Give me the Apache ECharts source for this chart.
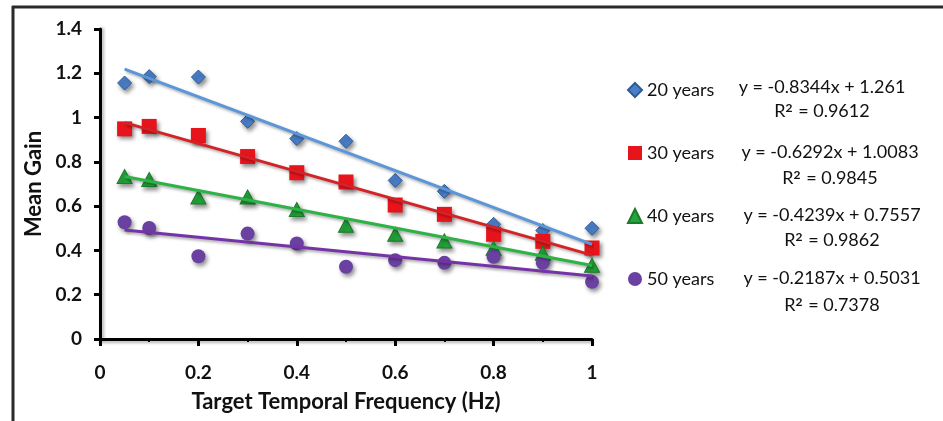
<!DOCTYPE html>
<html>
<head>
<meta charset="utf-8">
<script src="https://cdn.jsdelivr.net/npm/echarts@6/dist/echarts.min.js"></script>
<style>
  html, body { margin: 0; padding: 0; background: #fff; }
  #chart { width: 943px; height: 421px; }
</style>
</head>
<body>
<div id="chart"></div>
<script>
// data
const freq = [0.05, 0.1, 0.2, 0.3, 0.4, 0.5, 0.6, 0.7, 0.8, 0.9, 1.0];
const gain20 = [1.156, 1.185, 1.183, 0.983, 0.905, 0.893, 0.716, 0.667, 0.518, 0.49, 0.50];
const gain30 = [0.949, 0.96, 0.919, 0.824, 0.751, 0.709, 0.605, 0.563, 0.473, 0.441, 0.411];
const gain40 = [0.734, 0.72, 0.641, 0.641, 0.585, 0.514, 0.473, 0.443, 0.41, 0.387, 0.333];
const gain50 = [0.527, 0.501, 0.374, 0.476, 0.431, 0.326, 0.356, 0.344, 0.371, 0.344, 0.258];

const groups = ["20 years", "30 years", "40 years", "50 years"];
// trend line ends (x = 0.05 and x = 1)
const trendX = [0.05, 1.0];
const trend20 = [1.219, 0.427];
const trend30 = [0.977, 0.379];
const trend40 = [0.734, 0.332];
const trend50 = [0.492, 0.284];

const eqText = ["y = -0.8344x + 1.261", "y = -0.6292x + 1.0083", "y = -0.4239x + 0.7557", "y = -0.2187x + 0.5031"];
const r2Values = ["0.9612", "0.9845", "0.9862", "0.7378"];

const markerColors = ["#4a7fc8", "#e8141c", "#22a63a", "#6a40a0"];
const lineColors = ["#5b97d8", "#d42327", "#2db345", "#7434a6"];
const symbols = ["diamond", "rect", "triangle", "circle"];
const symbolSizes = [[14, 14], [15, 15], [15, 14], [14, 14]];
const borders = ["#2e5c99", "#e8141c", "#1b7a2b", "#6a40a0"];

const allGains = [gain20, gain30, gain40, gain50];
const allTrends = [trend20, trend30, trend40, trend50];

const FONT = "Lato, 'DejaVu Sans', sans-serif";

const scatterSeries = groups.map((name, i) => ({
  name: name,
  type: "scatter",
  symbol: symbols[i],
  symbolSize: symbolSizes[i],
  data: freq.map((x, k) => [x, allGains[i][k]]),
  itemStyle: {
    color: markerColors[i],
    borderColor: borders[i],
    borderWidth: i === 0 || i === 2 ? 1 : 0,
    shadowBlur: 4,
    shadowColor: "rgba(0,0,0,0.45)",
    shadowOffsetX: 2,
    shadowOffsetY: 3,
    opacity: 1,
  },
  z: 2,
}));

const trendSeries = groups.map((name, i) => ({
  name: name + " trend",
  type: "line",
  symbol: "none",
  data: trendX.map((x, k) => [x, allTrends[i][k]]),
  lineStyle: {
    color: lineColors[i],
    width: 3,
    shadowBlur: 3,
    shadowColor: "rgba(0,0,0,0.35)",
    shadowOffsetX: 2,
    shadowOffsetY: 2,
  },
  silent: true,
  z: 3,
}));

const graphics = [
  // frame (left and top edges)
  { type: "line", shape: { x1: 13, y1: 6, x2: 13, y2: 421 }, style: { stroke: "#2a2a2a", lineWidth: 3 } },
  { type: "line", shape: { x1: 12, y1: 7, x2: 943, y2: 7 }, style: { stroke: "#2a2a2a", lineWidth: 3 } },
];
const eqY = [87, 152, 215, 278];
const r2Y = [111, 178, 240, 305];
const eqX = [822, 830, 832, 832];
groups.forEach((g, i) => {
  graphics.push({
    type: "text", x: eqX[i], y: eqY[i],
    style: { text: eqText[i], font: "18px " + FONT, fill: "#111", textAlign: "center", textVerticalAlign: "middle" },
  });
  graphics.push({
    type: "text", x: eqX[i], y: r2Y[i],
    style: {
      text: "R{sup|2} = " + r2Values[i],
      fontFamily: FONT, fontSize: 18, fill: "#111",
      align: "center", verticalAlign: "middle",
      rich: { sup: { fontFamily: FONT, fontSize: 12, fontWeight: "bold", verticalAlign: "top", padding: [0, 1, 6, 0] } },
    },
  });
});

const chart = echarts.init(document.getElementById("chart"));
chart.setOption({
  backgroundColor: "#fff",
  animation: false,
  grid: { left: 100, right: 351, top: 29, bottom: 82 },
  legend: {
    data: groups,
    orient: "vertical",
    left: 622,
    top: 76,
    itemWidth: 14,
    itemHeight: 14,
    itemGap: 45,
    textStyle: { fontFamily: FONT, fontSize: 18, color: "#111" },
  },
  xAxis: {
    type: "value",
    min: 0,
    max: 1,
    interval: 0.2,
    name: "Target Temporal Frequency (Hz)",
    nameLocation: "middle",
    nameGap: 52,
    nameTextStyle: { fontFamily: FONT, fontSize: 22, fontWeight: "bold", color: "#111" },
    axisLine: { lineStyle: { color: "#000", width: 3, shadowBlur: 3, shadowColor: "rgba(0,0,0,0.3)", shadowOffsetY: 2 } },
    axisTick: { length: 7, lineStyle: { color: "#000", width: 3 } },
    minorTick: { show: true, splitNumber: 2, length: 3, lineStyle: { color: "#000", width: 2 } },
    axisLabel: { margin: 24, fontFamily: FONT, fontSize: 19, fontWeight: "bold", color: "#111" },
    splitLine: { show: false },
  },
  yAxis: {
    type: "value",
    min: 0,
    max: 1.4,
    interval: 0.2,
    name: "Mean Gain",
    nameLocation: "middle",
    nameGap: 54,
    nameTextStyle: { fontFamily: FONT, fontSize: 22, fontWeight: "bold", color: "#111" },
    axisLine: { show: true, lineStyle: { color: "#000", width: 3, shadowBlur: 3, shadowColor: "rgba(0,0,0,0.3)", shadowOffsetX: 2 } },
    axisTick: { show: true, length: 6, lineStyle: { color: "#000", width: 3 } },
    axisLabel: { margin: 18, fontFamily: FONT, fontSize: 19, fontWeight: "bold", color: "#111" },
    splitLine: { show: false },
  },
  series: scatterSeries.concat(trendSeries),
  graphic: graphics,
});
</script>
</body>
</html>
